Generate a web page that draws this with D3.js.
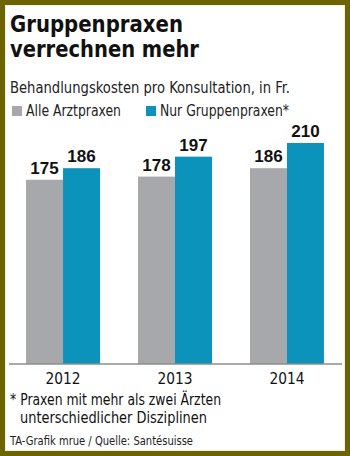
<!DOCTYPE html>
<html><head><meta charset="utf-8">
<script src="https://cdn.jsdelivr.net/npm/d3@7"></script>
<style>
html,body{margin:0;padding:0;background:#6b6400;}
svg{display:block;}
</style></head>
<body>
<script>
const categories = ["2012", "2013", "2014"];
const seriesNames = ["Alle Arztpraxen", "Nur Gruppenpraxen*"];
const alleArztpraxen = [175, 178, 186];
const nurGruppenpraxen = [186, 197, 210];
const titleLines = ["Gruppenpraxen", "verrechnen mehr"];
const subtitle = "Behandlungskosten pro Konsultation, in Fr.";
const footnoteLines = ["* Praxen mit mehr als zwei Ärzten", "unterschiedlicher Disziplinen"];
const source = "TA-Grafik mrue / Quelle: Santésuisse";

const W = 350, H = 456;
const colors = ["#a6a8ab", "#0b93bb"];
const narrow = "'DejaVu Sans Condensed', 'Liberation Sans Narrow', sans-serif";

const svg = d3.select("body").append("svg").attr("width", W).attr("height", H);
svg.append("rect").attr("x", 0).attr("y", 0).attr("width", W).attr("height", H).attr("fill", "#6b6400");
svg.append("rect").attr("x", 5).attr("y", 5).attr("width", 340).attr("height", 446).attr("fill", "#f3efe0");
svg.append("rect").attr("x", 6).attr("y", 6).attr("width", 338).attr("height", 444).attr("fill", "#ffffff");

function fit(sel, len) {
  sel.attr("textLength", len).attr("lengthAdjust", "spacingAndGlyphs");
}

// Title
const titleLen = [173, 189];
svg.selectAll("text.title").data(titleLines).enter().append("text")
  .attr("class", "title")
  .attr("x", 10).attr("y", (d, i) => 32 + i * 25)
  .attr("font-family", narrow).attr("font-weight", "bold").attr("font-size", 23)
  .attr("fill", "#111").text(d => d)
  .each(function (d, i) { fit(d3.select(this), titleLen[i]); });

fit(svg.append("text").attr("x", 10).attr("y", 93)
  .attr("font-family", narrow).attr("font-size", 15).attr("fill", "#222").text(subtitle), 280);

// Legend
const legendX = [12, 146];
const legendLen = [95, 129];
seriesNames.forEach((s, i) => {
  svg.append("rect").attr("x", legendX[i]).attr("y", 106).attr("width", 10).attr("height", 10).attr("fill", colors[i]);
  fit(svg.append("text").attr("x", legendX[i] + 14).attr("y", 116)
    .attr("font-family", narrow).attr("font-size", 15).attr("fill", "#222").text(s), legendLen[i]);
});

// Scales
const baseY = 363.5;
const y = d3.scaleLinear().domain([0, 220]).range([baseY, baseY - 1.05 * 220]);
const x0 = d3.scaleBand().domain(categories).range([7, 343]).paddingInner(0.339).paddingOuter(0.17);
const x1 = d3.scaleBand().domain([0, 1]).range([0, x0.bandwidth()]);

const data = categories.map((c, i) => ({ cat: c, vals: [alleArztpraxen[i], nurGruppenpraxen[i]] }));

const groups = svg.selectAll("g.grp").data(data).enter().append("g")
  .attr("transform", d => `translate(${x0(d.cat)},0)`);

groups.selectAll("rect").data(d => d.vals.map((v, k) => ({ v, k }))).enter().append("rect")
  .attr("x", d => x1(d.k)).attr("width", x1.bandwidth())
  .attr("y", d => y(d.v)).attr("height", d => y(0) - y(d.v))
  .attr("fill", d => colors[d.k]);

groups.selectAll("text.val").data(d => d.vals.map((v, k) => ({ v, k }))).enter().append("text")
  .attr("class", "val")
  .attr("x", d => x1(d.k) + x1.bandwidth() / 2).attr("y", d => y(d.v) - 6)
  .attr("text-anchor", "middle")
  .attr("font-family", "'Liberation Sans', Arial, sans-serif").attr("font-weight", "bold").attr("font-size", 17)
  .attr("fill", "#111").text(d => d.v);

// Axis
const xAxis = d3.axisBottom(x0).tickSize(0).tickPadding(9);
const ax = svg.append("g").attr("transform", `translate(0,${baseY})`).call(xAxis);
ax.select(".domain").remove();
ax.selectAll("text").attr("font-family", narrow).attr("font-size", 16).attr("fill", "#111")
  .attr("textLength", 35).attr("lengthAdjust", "spacingAndGlyphs");
svg.append("line").attr("x1", 9).attr("x2", 342).attr("y1", baseY + 0.5).attr("y2", baseY + 0.5)
  .attr("stroke", "#555").attr("stroke-width", 1.2);

// Footnote
const footLen = [211, 187];
svg.selectAll("text.foot").data(footnoteLines).enter().append("text")
  .attr("class", "foot")
  .attr("x", (d, i) => i === 0 ? 10 : 20).attr("y", (d, i) => 405 + i * 18)
  .attr("font-family", narrow).attr("font-size", 16).attr("fill", "#111").text(d => d)
  .each(function (d, i) { fit(d3.select(this), footLen[i]); });

fit(svg.append("text").attr("x", 10).attr("y", 445)
  .attr("font-family", narrow).attr("font-size", 12.5).attr("fill", "#222").text(source), 183);
</script>
</body></html>
